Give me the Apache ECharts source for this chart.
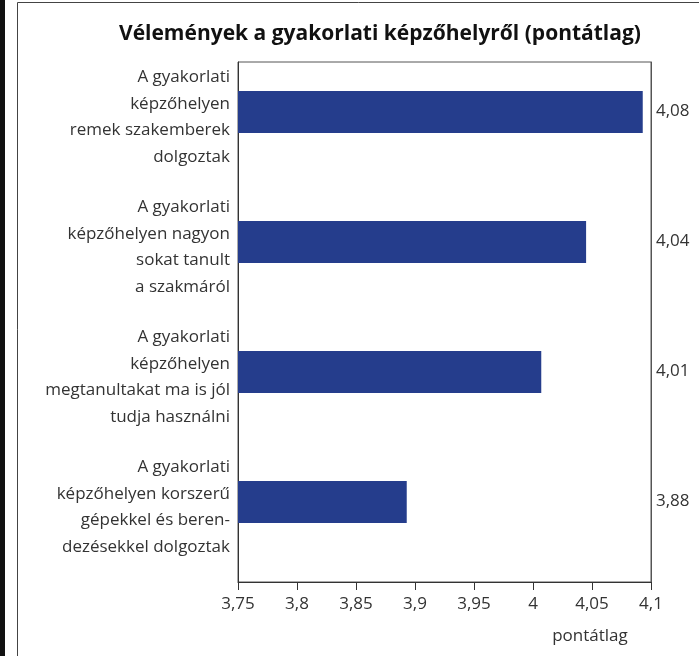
<!DOCTYPE html>
<html>
<head>
<meta charset="utf-8">
<script src="https://cdn.jsdelivr.net/npm/echarts@6/dist/echarts.min.js"></script>
<style>
html,body{margin:0;padding:0;background:#fff;}
#chart{width:699px;height:656px;}
</style>
</head>
<body>
<div id="chart"></div>
<script>
const titleText = 'Vélemények a gyakorlati képzőhelyről (pontátlag)';
const categories = [
  'A gyakorlati\nképzőhelyen\nremek szakemberek\ndolgoztak',
  'A gyakorlati\nképzőhelyen nagyon\nsokat tanult\na szakmáról',
  'A gyakorlati\nképzőhelyen\nmegtanultakat ma is jól\ntudja használni',
  'A gyakorlati\nképzőhelyen korszerű\ngépekkel és beren-\ndezésekkel dolgoztak'
];
const values = [4.093, 4.045, 4.007, 3.893];
const valueLabels = ['4,08', '4,04', '4,01', '3,88'];
const axisName = 'pontátlag';
const xMin = 3.75, xMax = 4.1, xStep = 0.05;

const FONT = 'Open Sans';
const chart = echarts.init(document.getElementById('chart'), null, {renderer: 'canvas'});
chart.setOption({
  animation: false,
  backgroundColor: '#fff',
  textStyle: {fontFamily: FONT},
  title: {
    text: titleText, left: 114, top: 19,
    textStyle: {fontFamily: FONT, fontSize: 21, fontWeight: 'bold', color: '#111'}
  },
  grid: {left: 238, right: 48, top: 62, bottom: 74, show: true, borderColor: '#555', borderWidth: 1, backgroundColor: 'transparent'},
  xAxis: {
    type: 'value', min: xMin, max: xMax, interval: xStep,
    axisLine: {show: true, lineStyle: {color: '#333', width: 1}},
    axisTick: {show: true, length: 8, lineStyle: {color: '#333'}},
    splitLine: {show: false},
    axisLabel: {
      fontFamily: FONT, fontSize: 17, color: '#333', margin: 14,
      formatter: v => String(parseFloat(v.toFixed(2))).replace('.', ',')
    }
  },
  yAxis: [{
    type: 'category', inverse: true, data: categories,
    axisLine: {show: true, lineStyle: {color: '#333', width: 1}},
    axisTick: {show: false},
    axisLabel: {
      interval: 0, fontFamily: FONT, fontSize: 17, lineHeight: 26.5, color: '#333', margin: 8, align: 'right',
      formatter: v => v + '\n{g|}',
      rich: {g: {height: 20, lineHeight: 20}}
    }
  }, {
    type: 'category', inverse: true, position: 'right', data: valueLabels,
    axisLine: {show: true, lineStyle: {color: '#555', width: 1}},
    axisTick: {show: false},
    axisLabel: {
      interval: 0, fontFamily: FONT, fontSize: 17, lineHeight: 22, color: '#333', margin: 5,
      formatter: v => v + '\n{g|}',
      rich: {g: {height: 32, lineHeight: 32}}
    }
  }],
  series: [{
    type: 'bar', data: values, barWidth: 42, barGap: '-28.57%',
    itemStyle: {color: '#253d8c'}, silent: true
  }, {
    type: 'bar', data: values.map(() => '-'), barWidth: 42,
    itemStyle: {color: 'transparent'}, silent: true
  }],
  graphic: [
    {type: 'rect', shape: {x: 0, y: 0, width: 5, height: 656}, style: {fill: '#111'}},
    {type: 'line', shape: {x1: 17.5, y1: 2.5, x2: 17.5, y2: 656}, style: {stroke: '#444', lineWidth: 1}},
    {type: 'line', shape: {x1: 17.5, y1: 2.5, x2: 699, y2: 2.5}, style: {stroke: '#444', lineWidth: 1}},
    {type: 'text', x: 590, y: 636, style: {text: axisName, font: '17px "Open Sans"', fill: '#333', textAlign: 'center', textVerticalAlign: 'middle'}}
  ]
});
</script>
</body>
</html>
